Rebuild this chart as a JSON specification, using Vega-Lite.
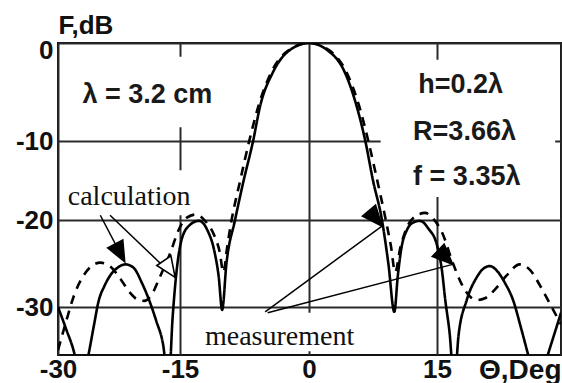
{
  "$schema": "https://vega.github.io/schema/vega-lite/v6.json",
  "width": 503,
  "height": 312,
  "autosize": {"type": "none"},
  "padding": {"left": 58, "top": 43, "right": 1, "bottom": 28},
  "background": "white",
  "config": {
    "view": {"stroke": "#111", "strokeWidth": 2},
    "axis": {"domain": false, "ticks": false, "grid": true, "gridColor": "#2a2a2a", "gridWidth": 2, "labelFont": "Liberation Sans", "labelFontWeight": "bold", "labelFontSize": 26, "labelColor": "#111", "labelOverlap": false, "labelBound": false, "labelFlush": false}
  },
  "datasets": {
    "curves": [
      {"theta": -30, "db": -30.0, "series": "calculation"},
      {"theta": -29.0, "db": -32.3, "series": "calculation"},
      {"theta": -28.0, "db": -34.8, "series": "calculation"},
      {"theta": -27.1, "db": -38.5, "series": "calculation"},
      {"theta": -26.3, "db": -35.2, "series": "calculation"},
      {"theta": -25.6, "db": -32.0, "series": "calculation"},
      {"theta": -25.0, "db": -29.3, "series": "calculation"},
      {"theta": -24.3, "db": -27.6, "series": "calculation"},
      {"theta": -23.6, "db": -26.4, "series": "calculation"},
      {"theta": -22.7, "db": -25.5, "series": "calculation"},
      {"theta": -21.7, "db": -25.1, "series": "calculation"},
      {"theta": -20.7, "db": -25.5, "series": "calculation"},
      {"theta": -19.7, "db": -27.2, "series": "calculation"},
      {"theta": -18.8, "db": -29.2, "series": "calculation"},
      {"theta": -17.9, "db": -31.5, "series": "calculation"},
      {"theta": -17.1, "db": -33.8, "series": "calculation"},
      {"theta": -16.4, "db": -38.0, "series": "calculation"},
      {"theta": -15.9, "db": -31.0, "series": "calculation"},
      {"theta": -15.5, "db": -26.6, "series": "calculation"},
      {"theta": -14.9, "db": -22.6, "series": "calculation"},
      {"theta": -14.0, "db": -20.7, "series": "calculation"},
      {"theta": -12.8, "db": -20.1, "series": "calculation"},
      {"theta": -11.8, "db": -21.2, "series": "calculation"},
      {"theta": -11.0, "db": -23.6, "series": "calculation"},
      {"theta": -10.5, "db": -26.5, "series": "calculation"},
      {"theta": -10.1, "db": -30.3, "series": "calculation"},
      {"theta": -9.6, "db": -25.0, "series": "calculation"},
      {"theta": -8.6, "db": -20.0, "series": "calculation"},
      {"theta": -7.6, "db": -15.0, "series": "calculation"},
      {"theta": -6.5, "db": -10.0, "series": "calculation"},
      {"theta": -5.7, "db": -6.5, "series": "calculation"},
      {"theta": -4.2, "db": -3.0, "series": "calculation"},
      {"theta": -2.2, "db": -0.7, "series": "calculation"},
      {"theta": 0, "db": 0, "series": "calculation"},
      {"theta": 2.1, "db": -0.7, "series": "calculation"},
      {"theta": 4.2, "db": -3.0, "series": "calculation"},
      {"theta": 5.6, "db": -6.5, "series": "calculation"},
      {"theta": 6.6, "db": -10.0, "series": "calculation"},
      {"theta": 7.5, "db": -15.0, "series": "calculation"},
      {"theta": 8.55, "db": -20.0, "series": "calculation"},
      {"theta": 9.3, "db": -25.0, "series": "calculation"},
      {"theta": 10.0, "db": -30.5, "series": "calculation"},
      {"theta": 10.4, "db": -26.5, "series": "calculation"},
      {"theta": 10.8, "db": -23.4, "series": "calculation"},
      {"theta": 11.5, "db": -21.1, "series": "calculation"},
      {"theta": 12.2, "db": -20.3, "series": "calculation"},
      {"theta": 13.0, "db": -20.1, "series": "calculation"},
      {"theta": 14.0, "db": -21.0, "series": "calculation"},
      {"theta": 15.0, "db": -22.9, "series": "calculation"},
      {"theta": 15.6, "db": -25.8, "series": "calculation"},
      {"theta": 16.0, "db": -29.2, "series": "calculation"},
      {"theta": 16.5, "db": -32.5, "series": "calculation"},
      {"theta": 17.1, "db": -38.0, "series": "calculation"},
      {"theta": 17.6, "db": -33.0, "series": "calculation"},
      {"theta": 18.6, "db": -29.2, "series": "calculation"},
      {"theta": 19.8, "db": -26.6, "series": "calculation"},
      {"theta": 20.6, "db": -25.6, "series": "calculation"},
      {"theta": 21.4, "db": -25.3, "series": "calculation"},
      {"theta": 22.4, "db": -26.0, "series": "calculation"},
      {"theta": 23.2, "db": -27.2, "series": "calculation"},
      {"theta": 24.2, "db": -29.2, "series": "calculation"},
      {"theta": 25.2, "db": -32.3, "series": "calculation"},
      {"theta": 26.1, "db": -35.2, "series": "calculation"},
      {"theta": 27.2, "db": -38.5, "series": "calculation"},
      {"theta": 28.4, "db": -35.0, "series": "calculation"},
      {"theta": 29.2, "db": -32.8, "series": "calculation"},
      {"theta": 30.0, "db": -30.6, "series": "calculation"},
      {"theta": -30, "db": -34.5, "series": "measurement"},
      {"theta": -29.0, "db": -31.5, "series": "measurement"},
      {"theta": -28.0, "db": -28.6, "series": "measurement"},
      {"theta": -27.0, "db": -26.6, "series": "measurement"},
      {"theta": -26.0, "db": -25.4, "series": "measurement"},
      {"theta": -24.8, "db": -24.9, "series": "measurement"},
      {"theta": -23.5, "db": -25.4, "series": "measurement"},
      {"theta": -22.3, "db": -26.8, "series": "measurement"},
      {"theta": -21.2, "db": -28.3, "series": "measurement"},
      {"theta": -20.3, "db": -29.1, "series": "measurement"},
      {"theta": -19.4, "db": -29.3, "series": "measurement"},
      {"theta": -18.5, "db": -28.6, "series": "measurement"},
      {"theta": -17.5, "db": -26.6, "series": "measurement"},
      {"theta": -16.2, "db": -23.8, "series": "measurement"},
      {"theta": -15.2, "db": -21.2, "series": "measurement"},
      {"theta": -14.2, "db": -19.7, "series": "measurement"},
      {"theta": -13.1, "db": -19.3, "series": "measurement"},
      {"theta": -12.0, "db": -20.2, "series": "measurement"},
      {"theta": -11.0, "db": -21.8, "series": "measurement"},
      {"theta": -10.4, "db": -23.6, "series": "measurement"},
      {"theta": -9.95, "db": -26.0, "series": "measurement"},
      {"theta": -9.5, "db": -23.0, "series": "measurement"},
      {"theta": -9.0, "db": -20.0, "series": "measurement"},
      {"theta": -8.0, "db": -15.0, "series": "measurement"},
      {"theta": -6.95, "db": -10.0, "series": "measurement"},
      {"theta": -5.9, "db": -6.5, "series": "measurement"},
      {"theta": -4.4, "db": -3.0, "series": "measurement"},
      {"theta": -2.3, "db": -0.7, "series": "measurement"},
      {"theta": 0, "db": 0, "series": "measurement"},
      {"theta": 2.3, "db": -0.7, "series": "measurement"},
      {"theta": 4.4, "db": -3.0, "series": "measurement"},
      {"theta": 5.9, "db": -6.5, "series": "measurement"},
      {"theta": 6.95, "db": -10.0, "series": "measurement"},
      {"theta": 8.0, "db": -15.0, "series": "measurement"},
      {"theta": 9.0, "db": -20.0, "series": "measurement"},
      {"theta": 9.6, "db": -23.0, "series": "measurement"},
      {"theta": 10.1, "db": -26.0, "series": "measurement"},
      {"theta": 10.7, "db": -23.2, "series": "measurement"},
      {"theta": 11.5, "db": -20.8, "series": "measurement"},
      {"theta": 12.5, "db": -19.5, "series": "measurement"},
      {"theta": 13.6, "db": -19.1, "series": "measurement"},
      {"theta": 14.6, "db": -19.9, "series": "measurement"},
      {"theta": 15.6, "db": -21.4, "series": "measurement"},
      {"theta": 16.9, "db": -24.9, "series": "measurement"},
      {"theta": 18.0, "db": -27.4, "series": "measurement"},
      {"theta": 18.8, "db": -28.6, "series": "measurement"},
      {"theta": 19.8, "db": -29.2, "series": "measurement"},
      {"theta": 20.8, "db": -29.0, "series": "measurement"},
      {"theta": 22.0, "db": -28.0, "series": "measurement"},
      {"theta": 23.4, "db": -26.4, "series": "measurement"},
      {"theta": 25.0, "db": -25.1, "series": "measurement"},
      {"theta": 26.3, "db": -25.8, "series": "measurement"},
      {"theta": 27.5, "db": -27.6, "series": "measurement"},
      {"theta": 28.7, "db": -29.7, "series": "measurement"},
      {"theta": 30.0, "db": -31.8, "series": "measurement"}
    ],
    "boxes": [
      {"theta": -29.3, "theta2": -10.0, "db": -1.4, "db2": -8.6},
      {"theta": -29.5, "theta2": -11.5, "db": -13.7, "db2": -19.4},
      {"theta": 8.4, "theta2": 29.3, "db": -1.7, "db2": -17.1},
      {"theta": -12.5, "theta2": 6.0, "db": -30.6, "db2": -34.6}
    ],
    "arrows": [
      {"id": "a1", "theta": -21.8, "db": -24.8, "theta2": -24.8, "db2": -19.4},
      {"id": "a2", "theta": -15.6, "db": -26.6, "theta2": -23.6, "db2": -19.4},
      {"id": "a3", "theta": 8.55, "db": -20.7, "theta2": -5.1, "db2": -30.5},
      {"id": "a4", "theta": 16.9, "db": -25.1, "theta2": -4.8, "db2": -30.6}
    ],
    "params": [
      {"theta": -27.0, "db": -6.1, "label": "λ = 3.2 cm"},
      {"theta": 12.8, "db": -5.1, "label": "h=0.2λ"},
      {"theta": 12.2, "db": -9.9, "label": "R=3.66λ"},
      {"theta": 12.2, "db": -15.6, "label": "f = 3.35λ"}
    ],
    "callouts": [
      {"theta": -28.8, "db": -18.1, "label": "calculation"},
      {"theta": -12.1, "db": -34.0, "label": "measurement"}
    ]
  },
  "encoding": {
    "x": {
      "field": "theta", "type": "quantitative",
      "scale": {"domain": [-30, -15, 0, 15, 30], "range": [0, 122, 251, 379, 503], "nice": false, "zero": false},
      "axis": {"title": null, "values": [-30, -15, 0, 15, 30], "labelPadding": 1,
        "labelExpr": "datum.value == 30 ? 'Θ,Deg' : '' + datum.value",
        "labelFontSize": {"condition": {"test": "datum.value == 30", "value": 28}, "value": 26},
        "labelAlign": {"condition": {"test": "datum.value == 30", "value": "right"}, "value": "center"}}
    },
    "y": {
      "field": "db", "type": "quantitative",
      "scale": {"domain": [-35, -30, -20, -10, 0], "range": [312, 264, 177, 98, 0], "nice": false, "zero": false},
      "axis": {"title": "F,dB", "values": [-30, -20, -10, 0], "labelPadding": 5,
        "labelExpr": "'' + datum.value",
        "labelOffset": {"condition": {"test": "datum.value == 0", "value": 7}, "value": 0},
        "titleAngle": 0, "titleAlign": "left", "titleBaseline": "alphabetic", "titleX": 0, "titleY": -10,
        "titleFont": "Liberation Sans", "titleFontWeight": "bold", "titleFontSize": 26, "titleColor": "#111"}
    }
  },
  "layer": [
    {
      "data": {"name": "boxes"},
      "mark": {"type": "rect", "fill": "white", "strokeWidth": 0},
      "encoding": {"x2": {"field": "theta2"}, "y2": {"field": "db2"}}
    },
    {
      "data": {"name": "curves"},
      "mark": {"type": "line", "clip": true, "strokeWidth": 2.6, "color": "black", "interpolate": "monotone"},
      "encoding": {
        "detail": {"field": "series", "type": "nominal"},
        "strokeDash": {"field": "series", "type": "nominal", "scale": {"domain": ["calculation", "measurement"], "range": [[1, 0], [9, 7]]}, "legend": null}
      }
    },
    {
      "data": {"name": "arrows"},
      "mark": {"type": "rule", "strokeWidth": 1.5, "color": "black"},
      "encoding": {"x2": {"field": "theta2"}, "y2": {"field": "db2"}}
    },
    {
      "data": {"name": "arrows"},
      "mark": {"type": "point", "shape": "M0,0L-1.1,2.6L1.1,2.6Z", "size": 240, "filled": true, "opacity": 1, "strokeWidth": 0},
      "encoding": {
        "angle": {"field": "id", "type": "nominal", "scale": {"domain": ["a1", "a2", "a3", "a4"], "range": [152, 134, 54, 75]}, "legend": null},
        "fill": {"field": "id", "type": "nominal", "scale": {"domain": ["a1", "a2", "a3", "a4"], "range": ["black", "white", "black", "black"]}, "legend": null}
      }
    },
    {
      "data": {"name": "arrows"},
      "mark": {"type": "point", "shape": "M0,0L-1.1,2.6L1.1,2.6Z", "size": 240, "filled": false, "color": "black", "strokeWidth": 1.6, "opacity": 1},
      "encoding": {
        "angle": {"field": "id", "type": "nominal", "scale": {"domain": ["a1", "a2", "a3", "a4"], "range": [152, 134, 54, 75]}, "legend": null}
      }
    },
    {
      "data": {"name": "params"},
      "mark": {"type": "text", "align": "left", "baseline": "alphabetic", "font": "Liberation Sans", "fontWeight": "bold", "fontSize": 27, "color": "#1a1a1a"},
      "encoding": {"text": {"field": "label", "type": "nominal"}}
    },
    {
      "data": {"name": "callouts"},
      "mark": {"type": "text", "align": "left", "baseline": "alphabetic", "font": "Liberation Serif", "fontSize": 28, "color": "#111"},
      "encoding": {"text": {"field": "label", "type": "nominal"}}
    }
  ]
}
